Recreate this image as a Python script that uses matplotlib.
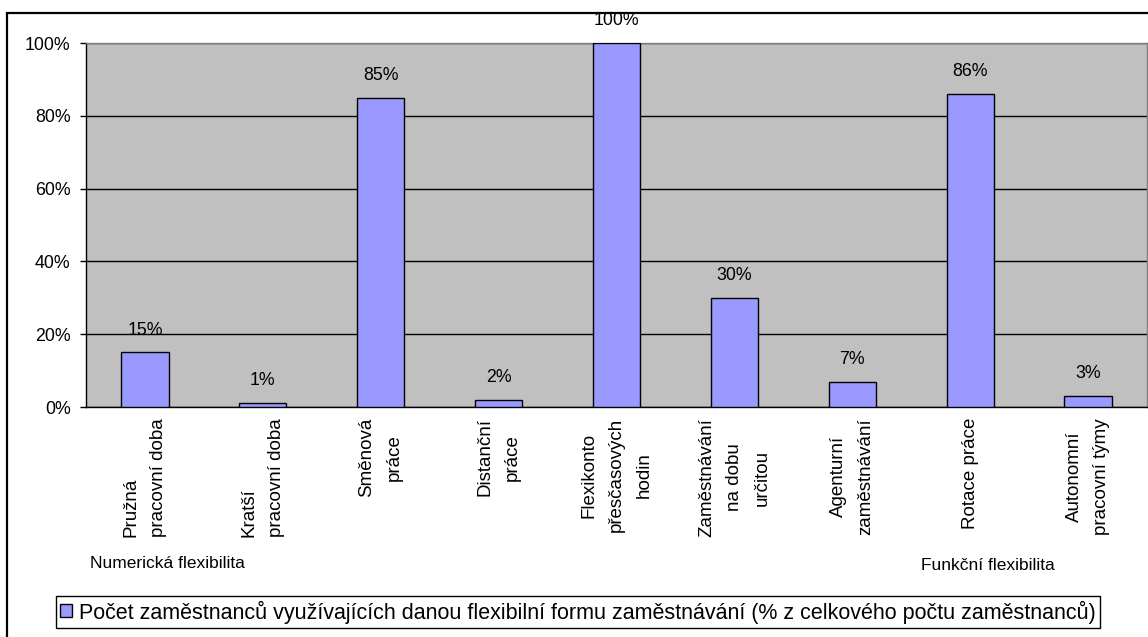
import matplotlib
matplotlib.use('Agg')
import matplotlib.pyplot as plt
from matplotlib.patches import Patch, Rectangle
from matplotlib.ticker import PercentFormatter

plt.rcParams['font.family'] = ['Liberation Sans', 'DejaVu Sans']

categories = [
    'Pružná\npracovní doba',
    'Kratší\npracovní doba',
    'Směnová\npráce',
    'Distanční\npráce',
    'Flexikonto\npřesčasových\nhodin',
    'Zaměstnávání\nna dobu\nurčitou',
    'Agenturní\nzaměstnávání',
    'Rotace práce',
    'Autonomní\npracovní týmy',
]
shares = [15, 1, 85, 2, 100, 30, 7, 86, 3]
label_align = ['left', 'left', 'center', 'center', 'center', 'center', 'center', 'center', 'center']
y_ticks = [0, 20, 40, 60, 80, 100]
series_name = ('Počet zaměstnanců využívajících danou flexibilní formu zaměstnávání '
               '(% z celkového počtu zaměstnanců)')
group_left = 'Numerická flexibilita'
group_right = 'Funkční flexibilita'

W, H = 1148, 637
fig = plt.figure(figsize=(W / 100, H / 100), dpi=100)
ax = fig.add_axes([86 / W, 1 - 407 / H, (1147 - 86) / W, (407 - 43) / H])

bar_color = '#9999FF'
x = range(len(categories))
ax.bar(x, shares, width=0.4, color=bar_color, edgecolor='black', linewidth=1.0, zorder=3)

for xi, v in zip(x, shares):
    ax.annotate(f'{v}%', (xi, v), xytext=(0, 10), textcoords='offset points',
                ha='center', va='bottom', fontsize=12.8, color='black')

ax.set_facecolor('#C0C0C0')
ax.set_xlim(-0.5, len(categories) - 0.5)
ax.set_ylim(0, 100)
ax.set_yticks(y_ticks)
ax.yaxis.set_major_formatter(PercentFormatter(decimals=0))
ax.yaxis.grid(True, color='black', linewidth=1.0)
ax.set_axisbelow(True)

ax.set_xticks(list(x))
ax.set_xticklabels(categories, rotation=90, ha='center', va='top', fontsize=13.5,
                   linespacing=1.8)
for lbl, al in zip(ax.get_xticklabels(), label_align):
    lbl.set_multialignment(al)
ax.tick_params(axis='x', length=0, pad=8)
ax.tick_params(axis='y', length=4, width=1, pad=7, labelsize=12.8, color='black')

for side in ('top', 'right'):
    ax.spines[side].set_color('#808080')
    ax.spines[side].set_linewidth(1.0)
for side in ('left', 'bottom'):
    ax.spines[side].set_color('black')
    ax.spines[side].set_linewidth(1.0)

# group captions under the category labels
fig.text(90 / W, 1 - 564 / H, group_left, ha='left', va='center', fontsize=12.5)
fig.text(988 / W, 1 - 565 / H, group_right, ha='center', va='center', fontsize=12.5)

# outer chart frame
fig.patches.append(Rectangle((7 / W, -0.05), 1.2, 1 - 13 / H + 0.05, transform=fig.transFigure,
                             fill=False, edgecolor='black', linewidth=1.6, zorder=0))

leg = fig.legend(handles=[Patch(facecolor=bar_color, edgecolor='black', linewidth=1.0, label=series_name)],
                 loc='center', bbox_to_anchor=(578 / W, 1 - 612 / H), fontsize=15.5,
                 frameon=True, fancybox=False, edgecolor='black', framealpha=1,
                 handlelength=0.55, handleheight=0.55, handletextpad=0.35,
                 borderpad=0.2, borderaxespad=0)
leg.get_frame().set_linewidth(1.0)

fig.savefig('out.png', dpi=100)
